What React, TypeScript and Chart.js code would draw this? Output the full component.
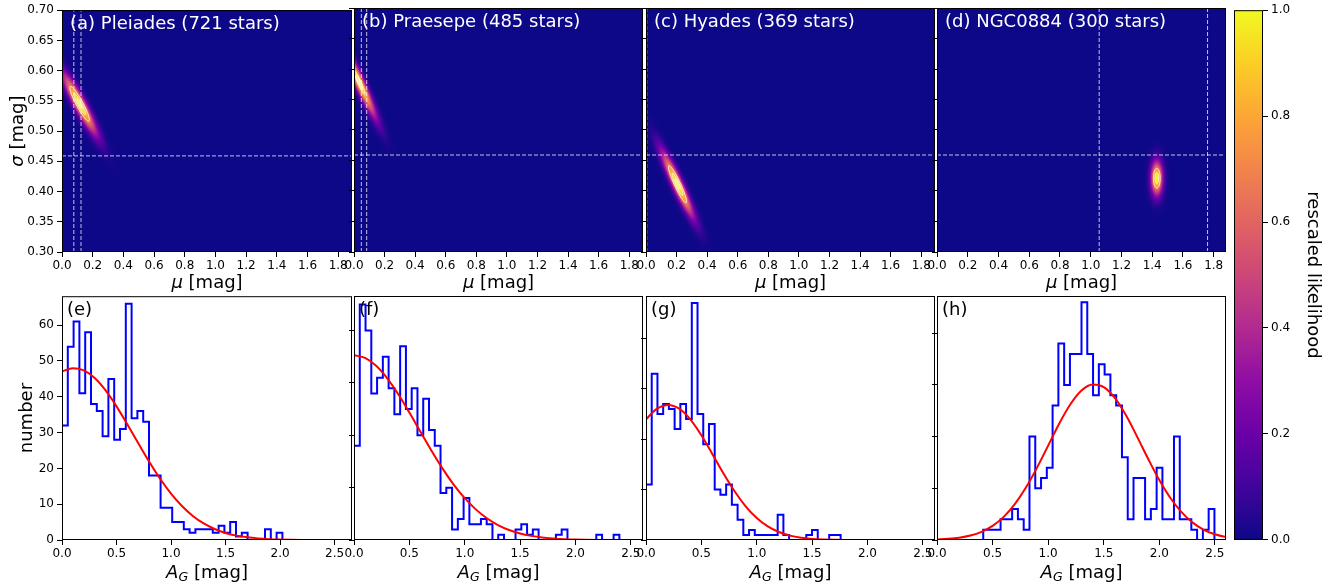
import React, { useEffect, useRef } from 'react';
import { Chart, registerables } from 'chart.js';

Chart.register(...registerables);

// ---------------- data ----------------
const clusterTitles = ['(a) Pleiades (721 stars)', '(b) Praesepe (485 stars)', '(c) Hyades (369 stars)', '(d) NGC0884 (300 stars)'];
const histLetters = ['(e)', '(f)', '(g)', '(h)'];

// likelihood surface in (mu, sigma)
const likeCentreMu = [0.115, 0.035, 0.206, 1.43];
const likeCentreSigma = [0.545, 0.578, 0.411, 0.421];
const likeWidthMu = [0.075, 0.072, 0.07, 0.026];
const likeWidthSigma = [0.034, 0.038, 0.036, 0.019];
const likeCorr = [-0.92, -0.94, -0.93, 0.0];
const contourLevels = [[0.7, 0.88, 0.97], [0.88, 0.95, 0.99], [0.7, 0.88, 0.97], [0.7, 0.9]];
const refMu = [[0.077, 0.124], [0.048, 0.083], [0.005], [1.055, 1.76]];
const refSigma = [0.459, 0.459, 0.459, 0.459];
const muMax = [1.89, 1.89, 1.89, 1.88];
const sigmaMin = 0.3;
const sigmaMax = 0.7;
const muTicks = [0, 0.2, 0.4, 0.6, 0.8, 1.0, 1.2, 1.4, 1.6, 1.8];
const sigmaTicks = [0.3, 0.35, 0.4, 0.45, 0.5, 0.55, 0.6, 0.65, 0.7];

// histograms of A_G (50 bins each)
const countsE = [32, 54, 61, 41, 58, 38, 36, 29, 45, 28, 31, 66, 34, 36, 33, 18, 18, 9, 9, 5, 5, 3, 2, 3, 3, 3, 2, 4, 2, 5, 1, 2, 0, 0, 0, 3, 0, 2, 0, 0, 0, 0, 0, 0, 0, 0, 0, 0, 0, 0];
const countsF = [18, 45, 40, 28, 31, 35, 29, 24, 37, 25, 29, 20, 27, 21, 18, 9, 10, 2, 4, 8, 3, 3, 4, 3, 0, 1, 0, 0, 2, 3, 1, 2, 0, 0, 0, 1, 2, 0, 0, 0, 0, 0, 1, 0, 0, 1, 0, 0, 0, 0];
const countsG = [11, 33, 25, 27, 26, 22, 27, 24, 47, 25, 19, 23, 10, 9, 11, 7, 4, 1, 2, 1, 1, 1, 1, 5, 1, 0, 0, 0, 1, 2, 0, 0, 1, 1, 0, 0, 0, 0, 0, 0, 0, 0, 0, 0, 0, 0, 0, 0, 0, 0];
const countsH = [0, 0, 0, 0, 0, 0, 0, 0, 1, 1, 1, 2, 2, 3, 2, 1, 10, 5, 6, 7, 13, 19, 15, 18, 18, 23, 18, 14, 17, 16, 14, 13, 8, 2, 6, 6, 2, 3, 7, 2, 2, 10, 2, 2, 1, 0, 1, 3, 0, 0];
const binWidth = [0.0532, 0.0521, 0.0517, 0.052];
const agMax = [2.66, 2.61, 2.61, 2.6];
const numberMax = [68.1, 46.6, 48.4, 23.6];
const agTicks = [0, 0.5, 1.0, 1.5, 2.0, 2.5];
const numberTicks = [
  [0, 10, 20, 30, 40, 50, 60],
  [0, 10, 20, 30, 40],
  [0, 10, 20, 30, 40],
  [0, 5, 10, 15, 20],
];

// red fitted curves, read at these A_G values
const fitAG = [0, 0.1, 0.2, 0.3, 0.4, 0.5, 0.6, 0.7, 0.8, 0.9, 1.0, 1.1, 1.2, 1.3, 1.4, 1.5, 1.6, 1.7, 1.8, 1.9, 2.0, 2.1, 2.2, 2.3, 2.4, 2.5, 2.6, 2.7];
const fitE = [47.05, 48.0, 47.36, 45.22, 41.77, 37.33, 32.27, 27.0, 21.85, 17.11, 12.96, 9.5, 6.73, 4.62, 3.07, 1.97, 1.22, 0.74, 0.43, 0.24, 0.13, 0.07, 0.03, 0.02, 0.01, 0, 0, 0];
const fitF = [35.3, 34.78, 33.26, 30.88, 27.83, 24.34, 20.67, 17.04, 13.64, 10.59, 7.99, 5.85, 4.15, 2.86, 1.92, 1.25, 0.79, 0.48, 0.29, 0.16, 0.09, 0.05, 0.02, 0.01, 0, 0, 0, 0];
const fitG = [23.93, 26.05, 26.8, 26.05, 23.93, 20.77, 17.03, 13.19, 9.66, 6.68, 4.37, 2.7, 1.58, 0.87, 0.45, 0.22, 0.1, 0.05, 0.02, 0.01, 0, 0, 0, 0, 0, 0, 0, 0];
const fitH = [0.05, 0.11, 0.22, 0.43, 0.79, 1.37, 2.24, 3.47, 5.07, 7.0, 9.13, 11.27, 13.13, 14.46, 15.04, 14.79, 13.74, 12.06, 10.0, 7.84, 5.8, 4.06, 2.69, 1.68, 0.99, 0.55, 0.29, 0.14];

const histCounts = [countsE, countsF, countsG, countsH];
const histFits = [fitE, fitF, fitG, fitH];

const colorbarTicks = [0, 0.2, 0.4, 0.6, 0.8, 1.0];

// colour map (plasma) stops
const plasmaStops = [
  [13, 8, 135], [65, 4, 157], [106, 0, 168], [143, 13, 164], [177, 42, 144], [204, 71, 120],
  [225, 100, 98], [242, 132, 75], [252, 166, 54], [252, 206, 37], [240, 249, 33],
];

// ---------------- layout ----------------
const FONT = '"DejaVu Sans", sans-serif';
const COLS = [
  { left: 62, width: 290 },
  { left: 354, width: 289 },
  { left: 646, width: 289 },
  { left: 937, width: 289 },
];
const ROW_TOP = { top: 8, height: 244 };
const ROW_BOTTOM = { top: 296, height: 244 };
const CBAR = { left: 1234, width: 29, top: 8, height: 532 };

function plasma(v: number): number[] {
  const x = Math.max(0, Math.min(1, v)) * 10;
  const i = Math.min(9, Math.floor(x));
  const t = x - i;
  const a = plasmaStops[i];
  const b = plasmaStops[i + 1];
  return [a[0] + (b[0] - a[0]) * t, a[1] + (b[1] - a[1]) * t, a[2] + (b[2] - a[2]) * t];
}

function likelihood(k: number, mu: number, sig: number) {
  const u = (mu - likeCentreMu[k]) / likeWidthMu[k];
  const v = (sig - likeCentreSigma[k]) / likeWidthSigma[k];
  const r = likeCorr[k];
  const q = (u * u + v * v - 2 * r * u * v) / (1 - r * r);
  return Math.exp(-0.5 * q);
}

type Seg = { t: string; italic?: boolean; size?: number; dy?: number };
function drawRich(ctx: CanvasRenderingContext2D, segs: Seg[], cx: number, cy: number, rot = 0, color = '#000', align = 'center') {
  ctx.save();
  ctx.translate(cx, cy);
  if (rot) ctx.rotate(rot);
  ctx.fillStyle = color;
  ctx.textBaseline = 'middle';
  ctx.textAlign = 'left';
  const fontOf = (s: Seg) => `${s.italic ? 'italic ' : ''}${s.size || 18}px ${FONT}`;
  let total = 0;
  const widths = segs.map((s) => {
    ctx.font = fontOf(s);
    const w = ctx.measureText(s.t).width;
    total += w;
    return w;
  });
  let x = align === 'center' ? -total / 2 : 0;
  segs.forEach((s, i) => {
    ctx.font = fontOf(s);
    ctx.fillText(s.t, x, s.dy || 0);
    x += widths[i];
  });
  ctx.restore();
}

const tickFont = { family: FONT, size: 12 };

function fixedTicks(values: number[]) {
  return (scale: any) => {
    scale.ticks = values.map((v) => ({ value: v }));
  };
}

function framePlugin(extra: (chart: any) => void) {
  return {
    id: 'frame',
    afterDraw(chart: any) {
      const { ctx, chartArea: a } = chart;
      ctx.save();
      ctx.strokeStyle = '#000';
      ctx.lineWidth = 1;
      ctx.strokeRect(a.left + 0.5, a.top + 0.5, a.right - a.left - 1, a.bottom - a.top - 1);
      ctx.restore();
      extra(chart);
    },
  };
}

function heatmapPlugin(k: number) {
  return {
    id: 'heatmap',
    beforeDatasetsDraw(chart: any) {
      const { ctx, chartArea: a, scales } = chart;
      const w = Math.round(a.right - a.left);
      const h = Math.round(a.bottom - a.top);
      const off = document.createElement('canvas');
      off.width = w;
      off.height = h;
      const octx = off.getContext('2d') as CanvasRenderingContext2D;
      const img = octx.createImageData(w, h);
      for (let py = 0; py < h; py++) {
        const s = scales.y.getValueForPixel(a.top + py + 0.5);
        for (let px = 0; px < w; px++) {
          const m = scales.x.getValueForPixel(a.left + px + 0.5);
          const c = plasma(likelihood(k, m, s));
          const i = (py * w + px) * 4;
          img.data[i] = c[0];
          img.data[i + 1] = c[1];
          img.data[i + 2] = c[2];
          img.data[i + 3] = 255;
        }
      }
      octx.putImageData(img, 0, 0);
      ctx.drawImage(off, a.left, a.top);
      // contours
      ctx.save();
      ctx.beginPath();
      ctx.rect(a.left, a.top, a.right - a.left, a.bottom - a.top);
      ctx.clip();
      ctx.strokeStyle = '#ffffff';
      ctx.lineWidth = 1;
      const r0 = likeCorr[k];
      for (const lev of contourLevels[k]) {
        const r = Math.sqrt(-2 * Math.log(lev));
        ctx.beginPath();
        for (let t = 0; t <= 360; t += 2) {
          const th = (t * Math.PI) / 180;
          const m = likeCentreMu[k] + r * likeWidthMu[k] * Math.cos(th);
          const s = likeCentreSigma[k] + r * likeWidthSigma[k] * (r0 * Math.cos(th) + Math.sqrt(1 - r0 * r0) * Math.sin(th));
          const x = scales.x.getPixelForValue(m);
          const y = scales.y.getPixelForValue(s);
          if (t === 0) ctx.moveTo(x, y);
          else ctx.lineTo(x, y);
        }
        ctx.closePath();
        ctx.stroke();
      }
      ctx.restore();
    },
  };
}

function baseOptions(pad: any) {
  return {
    responsive: false,
    animation: false,
    devicePixelRatio: 1,
    events: [],
    layout: { padding: pad },
    plugins: { legend: { display: false }, tooltip: { enabled: false }, title: { display: false } },
  };
}

function gridOpts() {
  return { drawOnChartArea: false, drawTicks: true, tickLength: 5, color: '#000', lineWidth: 1 };
}

const TOP_M = { T: 8, B: 40, R: 14 };
const BOT_M = { T: 10, B: 46, R: 14 };

function heatConfig(k: number, L: number) {
  const dash = { showLine: true, pointRadius: 0, borderColor: 'rgba(255,255,255,0.75)', borderWidth: 1, borderDash: [4, 2], clip: 0 };
  const datasets: any[] = refMu[k].map((m) => ({ ...dash, data: [{ x: m, y: sigmaMin }, { x: m, y: sigmaMax }] }));
  datasets.push({ ...dash, data: [{ x: 0, y: refSigma[k] }, { x: muMax[k], y: refSigma[k] }] });
  return {
    type: 'scatter',
    data: { datasets },
    options: {
      ...baseOptions({ left: 0, right: TOP_M.R, top: TOP_M.T, bottom: 0 }),
      scales: {
        x: {
          type: 'linear', min: 0, max: muMax[k], bounds: 'data',
          afterFit: (s: any) => { s.height = TOP_M.B; },
          afterBuildTicks: fixedTicks(muTicks),
          ticks: { autoSkip: false, maxRotation: 0, minRotation: 0, padding: 2, color: '#000', font: tickFont, callback: (v: any) => Number(v).toFixed(1) },
          grid: gridOpts(), border: { display: false },
        },
        y: {
          type: 'linear', min: sigmaMin, max: sigmaMax, bounds: 'data',
          afterFit: (s: any) => { s.width = L; },
          afterBuildTicks: fixedTicks(sigmaTicks),
          ticks: { display: k === 0, autoSkip: false, padding: 3, color: '#000', font: tickFont, callback: (v: any) => Number(v).toFixed(2) },
          grid: gridOpts(), border: { display: false },
        },
      },
    },
    plugins: [
      heatmapPlugin(k),
      framePlugin((chart: any) => {
        const { ctx, chartArea: a } = chart;
        drawRich(ctx, [{ t: clusterTitles[k] }], a.left + 8, a.top + 14.5, 0, '#ffffff', 'left');
        drawRich(ctx, [{ t: 'μ', italic: true }, { t: ' [mag]' }], (a.left + a.right) / 2, a.bottom + 31);
        if (k === 0) drawRich(ctx, [{ t: 'σ', italic: true }, { t: ' [mag]' }], a.left - 44, (a.top + a.bottom) / 2, -Math.PI / 2);
      }),
    ],
  };
}

function histConfig(k: number, L: number) {
  const counts = histCounts[k];
  const bw = binWidth[k];
  const steps: any[] = [{ x: 0, y: 0 }];
  counts.forEach((c, i) => steps.push({ x: i * bw, y: c }));
  steps.push({ x: counts.length * bw, y: counts[counts.length - 1] });
  steps.push({ x: counts.length * bw, y: 0 });
  const fit = fitAG.map((x, i) => ({ x, y: histFits[k][i] }));
  return {
    type: 'scatter',
    data: {
      datasets: [
        { data: fit, showLine: true, pointRadius: 0, borderColor: '#ff0000', borderWidth: 2, cubicInterpolationMode: 'monotone', clip: 0, order: 0 },
        { data: steps, showLine: true, pointRadius: 0, borderColor: '#0000ff', borderWidth: 2, stepped: true, clip: 0, order: 1 },
      ],
    },
    options: {
      ...baseOptions({ left: 0, right: BOT_M.R, top: BOT_M.T, bottom: 0 }),
      scales: {
        x: {
          type: 'linear', min: 0, max: agMax[k], bounds: 'data',
          afterFit: (s: any) => { s.height = BOT_M.B; },
          afterBuildTicks: fixedTicks(agTicks),
          ticks: { autoSkip: false, maxRotation: 0, minRotation: 0, padding: 2, color: '#000', font: tickFont, callback: (v: any) => Number(v).toFixed(1) },
          grid: gridOpts(), border: { display: false },
        },
        y: {
          type: 'linear', min: 0, max: numberMax[k], bounds: 'data',
          afterFit: (s: any) => { s.width = L; },
          afterBuildTicks: fixedTicks(numberTicks[k]),
          ticks: { display: k === 0, autoSkip: false, padding: 3, color: '#000', font: tickFont, callback: (v: any) => String(Math.round(Number(v))) },
          grid: gridOpts(), border: { display: false },
        },
      },
    },
    plugins: [
      framePlugin((chart: any) => {
        const { ctx, chartArea: a } = chart;
        drawRich(ctx, [{ t: histLetters[k] }], a.left + 5, a.top + 14.5, 0, '#000', 'left');
        drawRich(ctx, [{ t: 'A', italic: true }, { t: 'G', italic: true, size: 12.6, dy: 5 }, { t: ' [mag]' }], (a.left + a.right) / 2, a.bottom + 33);
        if (k === 0) drawRich(ctx, [{ t: 'number' }], a.left - 35, (a.top + a.bottom) / 2, -Math.PI / 2);
      }),
    ],
  };
}

function colorbarConfig() {
  return {
    type: 'scatter',
    data: { datasets: [] },
    options: {
      ...baseOptions({ left: 2, right: 0, top: 8, bottom: 10 }),
      scales: {
        x: { type: 'linear', display: false, min: 0, max: 1 },
        y: {
          type: 'linear', position: 'right', min: 0, max: 1, bounds: 'data',
          afterFit: (s: any) => { s.width = 72; },
          afterBuildTicks: fixedTicks(colorbarTicks),
          ticks: { autoSkip: false, padding: 3, color: '#000', font: tickFont, callback: (v: any) => Number(v).toFixed(1) },
          grid: gridOpts(), border: { display: false },
        },
      },
    },
    plugins: [
      {
        id: 'cbar',
        beforeDatasetsDraw(chart: any) {
          const { ctx, chartArea: a, scales } = chart;
          for (let y = Math.floor(a.top); y < a.bottom; y++) {
            const c = plasma(scales.y.getValueForPixel(y + 0.5));
            ctx.fillStyle = `rgb(${c[0]},${c[1]},${c[2]})`;
            ctx.fillRect(a.left, y, a.right - a.left, 1);
          }
        },
      },
      framePlugin((chart: any) => {
        const { ctx, chartArea: a } = chart;
        drawRich(ctx, [{ t: 'rescaled likelihood' }], a.right + 50, (a.top + a.bottom) / 2, Math.PI / 2);
      }),
    ],
  };
}

function ChartBox(props: { left: number; top: number; width: number; height: number; make: () => any }) {
  const ref = useRef<HTMLCanvasElement | null>(null);
  useEffect(() => {
    const chart = new Chart(ref.current as HTMLCanvasElement, props.make());
    return () => chart.destroy();
  }, []);
  const { left, top, width, height } = props;
  return <canvas ref={ref} width={width} height={height} style={{ position: 'absolute', left, top, width, height }} />;
}

export default function App() {
  const boxes: any[] = [];
  COLS.forEach((col, k) => {
    const L = k === 0 ? 62 : 14;
    boxes.push(
      <ChartBox key={'h' + k} left={col.left - L} top={ROW_TOP.top - TOP_M.T} width={col.width + L + TOP_M.R}
        height={ROW_TOP.height + TOP_M.T + TOP_M.B} make={() => heatConfig(k, L)} />
    );
    boxes.push(
      <ChartBox key={'g' + k} left={col.left - L} top={ROW_BOTTOM.top - BOT_M.T} width={col.width + L + BOT_M.R}
        height={ROW_BOTTOM.height + BOT_M.T + BOT_M.B} make={() => histConfig(k, L)} />
    );
  });
  boxes.push(
    <ChartBox key="cb" left={CBAR.left - 2} top={CBAR.top - 8} width={2 + CBAR.width + 72} height={CBAR.height + 18} make={colorbarConfig} />
  );
  return (
    <div style={{ position: 'absolute', left: 0, top: 0, width: 1335, height: 587, background: '#ffffff', overflow: 'hidden' }}>
      {boxes}
    </div>
  );
}
